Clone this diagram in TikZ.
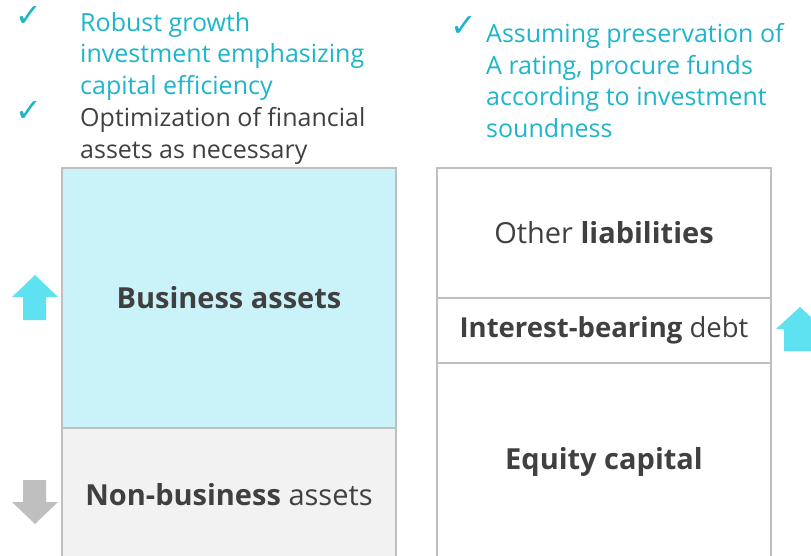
\documentclass[tikz,border=0pt]{standalone}
\usepackage{fontspec}
\setmainfont{Open Sans}
\newfontfamily\ticksym{DejaVu Sans}
\usetikzlibrary{positioning}
\definecolor{framegray}{RGB}{191,191,191}
\definecolor{paleaqua}{RGB}{201,243,249}
\definecolor{palegray}{RGB}{242,242,242}
\definecolor{aquatext}{RGB}{29,181,201}
\definecolor{darktext}{RGB}{64,64,64}
\definecolor{brightaqua}{RGB}{94,225,241}

\begin{document}
\begin{tikzpicture}[
  x=1pt, y=-1pt,
  block/.style={draw=framegray, line width=2.5pt, minimum width=334pt,
                inner sep=0pt, outer sep=0pt, text=darktext,
                font=\fontsize{29}{34}\selectfont},
  tick/.style={text=aquatext, inner sep=0pt, anchor=base,
               font=\ticksym\fontsize{32}{36}\selectfont},
  note/.style={inner sep=0pt, anchor=base west, align=left,
               font=\fontsize{25}{31.5}\selectfont},
  upfill/.style={fill=brightaqua},
  downfill/.style={fill=framegray}
]
  \clip (0,0) rectangle (811,555);

  % assets side
  \node[block, fill=paleaqua, minimum height=260pt, anchor=north west] (biz) at (62,168)
    {\textbf{Business assets}};
  \node[block, fill=palegray, minimum height=134pt] (nonbiz) [below=0pt of biz]
    {\textbf{Non-business} assets};

  % liabilities side
  \node[block, fill=white, minimum height=130pt, anchor=north west] (other) at (437,168)
    {Other \textbf{liabilities}};
  \node[block, fill=white, minimum height=65pt, font=\fontsize{27.5}{32}\selectfont]
    (debt) [below=0pt of other] {\textbf{Interest-bearing} debt};
  \node[block, fill=white, minimum height=198pt] (equity) [below=0pt of debt]
    {\textbf{Equity capital}};

  % policy notes (anchored at the baseline of their last line)
  \node[tick] (t1) at (29,26) {✓};
  \node[note, text=aquatext] (n1) at (80,94)
    {Robust growth\\investment emphasizing\\capital efficiency};
  \node[tick] (t2) at (29,121) {✓};
  \node[note, text=darktext] (n2) at (80,158)
    {Optimization of financial\\assets as necessary};
  \node[tick] (t3) at (464,36) {✓};
  \node[note, text=aquatext] (n3) at (486,137)
    {Assuming preservation of\\A rating, procure funds\\according to investment\\soundness};

  % up / down arrows
  \fill[upfill] (12,297) -- (35,275) -- (58,297) -- (46,297) -- (46,320)
    -- (23,320) -- (23,297) -- cycle;
  \fill[downfill] (23,480) -- (46,480) -- (46,502) -- (58,502) -- (35,524)
    -- (12,502) -- (23,502) -- cycle;
  \fill[upfill] (776,329) -- (800,307) -- (824,329) -- (816,329) -- (816,351)
    -- (784,351) -- (784,329) -- cycle;
\end{tikzpicture}
\end{document}
